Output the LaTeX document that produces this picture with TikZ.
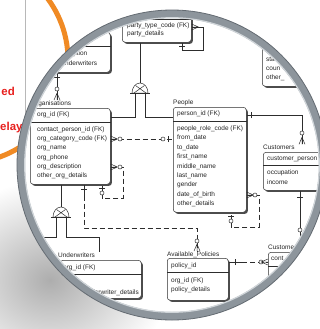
\documentclass[tikz,border=0pt]{standalone}
\usepackage{fontspec}
\setmainfont{Liberation Sans}
\usetikzlibrary{shadows}
\definecolor{ringgray}{RGB}{141,149,156}
\definecolor{ringdark}{RGB}{100,107,114}
\definecolor{ringlight}{RGB}{208,213,217}
\definecolor{orangearc}{RGB}{240,138,36}
\definecolor{redtitle}{RGB}{232,32,30}
\definecolor{erline}{RGB}{45,45,45}
\tikzset{
  erfont/.style={font=\fontsize{6.5}{7}\selectfont, text=black!85, inner sep=0pt},
  attr/.style={erfont, anchor=base west},
  redtxt/.style={font=\fontsize{11.5}{12}\selectfont\bfseries, text=redtitle, inner sep=0pt},
  rel/.style={draw=erline, line width=0.5bp},
  optrel/.style={rel, dash pattern=on 5bp off 3bp},
  entity/.style={draw=erline, line width=0.5bp, rounded corners=3bp, fill=white,
    anchor=north west, inner sep=0pt,
    drop shadow={shadow xshift=1.6bp, shadow yshift=-1.6bp, fill=black!70, opacity=1}},
  crowfoot/.pic={\draw[rel] (0,-3bp) -- (7bp,0) (0,0) -- (7bp,0) (0,3bp) -- (7bp,0);},
  ringo/.pic={\draw[rel, fill=white] (0,0) circle[radius=2bp];},
  tick/.pic={\draw[rel] (0,-3bp) -- (0,3bp);},
  subtype/.pic={
    \draw[rel, fill=white] (-8bp,0) arc[start angle=180, end angle=0, x radius=8bp, y radius=10bp] -- cycle;
    \draw[rel] (-6bp,0) -- (4.5bp,7.5bp) (6bp,0) -- (-4.5bp,7.5bp);
    \draw[rel] (-10bp,0) -- (10bp,0);}
}
\begin{document}
\begin{tikzpicture}[x=1bp,y=-1bp]
\useasboundingbox (0,0) rectangle (320,329);
\fill[white] (0,0) rectangle (320,329);

% soft shadow under the lens
\shade[inner color=black!32, outer color=white] (50,280) ellipse [x radius=120bp, y radius=100bp];

% slide behind the lens
\draw[orangearc, line width=5bp] (-35,60) circle[radius=103bp];
\draw[black!28, line width=0.6bp] (25,0) -- (25,115);
\node[redtxt, anchor=base east] (t1) at (15,95) {ed};
\node[redtxt, anchor=base west] (t2) at (0,130) {elay};

% the lens
\coordinate (C) at (172,165);
\fill[white] (C) circle[radius=155bp];
\begin{scope}
\clip (C) circle[radius=147bp];

% ---------- entities ----------
\node[entity, minimum width=90bp, minimum height=40bp] (utype) at (20,32) {};
\draw[rel] (utype.west |- 0,46) -- (utype.east |- 0,46);
\node[attr] (utype1) at (63,55.5) {scription};
\node[attr] (utype2) at (65,65.5) {nderwriters};

\node[entity, minimum width=69bp, minimum height=38bp] (party) at (122,4) {};
\draw[rel] (party.west |- 0,19) -- (party.east |- 0,19);
\node[attr] (party1) at (127,27.5) {party\_type\_code (FK)};
\node[attr] (party2) at (127,35.5) {party\_details};

\node[entity, minimum width=80bp, minimum height=56bp] (tr) at (262,30) {};
\node[attr] (tr1) at (266,61.5) {sta};
\node[attr] (tr2) at (266,70.5) {coun};
\node[attr] (tr3) at (266,79.5) {other\_};

\node[attr] (orglab) at (31,105) {Organisations};
\node[entity, minimum width=80bp, minimum height=76bp] (org) at (30,108) {};
\draw[rel] (org.west |- 0,122) -- (org.east |- 0,122);
\node[attr] (orgkey) at (37,116) {org\_id (FK)};
\foreach \t [count=\i] in {contact\_person\_id (FK), org\_category\_code (FK), org\_name, org\_phone, org\_description, other\_org\_details}
  \node[attr] (org\i) at (37,122.3+\i*9.2) {\t};

\node[attr] (ppllab) at (173,104) {People};
\node[entity, minimum width=73bp, minimum height=105bp] (ppl) at (173,107) {};
\draw[rel] (ppl.west |- 0,121) -- (ppl.east |- 0,121);
\node[attr] (pplkey) at (177,115.5) {person\_id (FK)};
\foreach \t [count=\i] in {people\_role\_code (FK), from\_date, to\_date, first\_name, middle\_name, last\_name, gender, date\_of\_birth, other\_details}
  \node[attr] (ppl\i) at (177,121.125+\i*9.375) {\t};

\node[attr] (custlab) at (263,149) {Customers};
\node[entity, minimum width=80bp, minimum height=38bp] (cust) at (263,152) {};
\draw[rel] (cust.west |- 0,165) -- (cust.east |- 0,165);
\node[attr] (custkey) at (267,160.5) {customer\_person};
\node[attr] (cust1) at (267,174.5) {occupation};
\node[attr] (cust2a) at (267,184) {income};

\node[attr] (uwlab) at (58,257) {Underwriters};
\node[entity, minimum width=81bp, minimum height=38bp] (uw) at (60,260) {};
\draw[rel] (uw.west |- 0,274) -- (uw.east |- 0,274);
\node[attr] (uwkey) at (63,269.5) {org\_id (FK)};
\node[attr] (uw1) at (72,282.5) {d};
\node[attr, anchor=base east] (uw2) at (139,294.5) {nderwriter\_details};

\node[attr] (aplab) at (167,256) {Available\_Policies};
\node[entity, minimum width=61bp, minimum height=42bp] (ap) at (167,258) {};
\draw[rel] (ap.west |- 0,272) -- (ap.east |- 0,272);
\node[attr] (apkey) at (171,267.5) {policy\_id};
\node[attr] (ap1) at (171,282.5) {org\_id (FK)};
\node[attr] (ap2) at (171,291.5) {policy\_details};

\node[attr] (cust2lab) at (268,249) {Custome};
\node[entity, minimum width=80bp, minimum height=70bp] (cust2) at (268,252) {};
\draw[rel] (cust2.west |- 0,266) -- (cust2.east |- 0,266);
\node[attr] (cust2key) at (271,260.5) {cont};

% ---------- subtype symbols ----------
\coordinate (sub1) at (140,93);
\coordinate (sub1top) at (140,83);
\coordinate (sub2) at (61,217);
\coordinate (sub2top) at (61,207);
\coordinate (sub2l) at (30,237);

% ---------- relationships ----------
% underwriter types to organisations
\draw[rel] (utype.south -| 57,0) -- (orglab.north -| 57,0);
\pic[rotate=90] at (57,77) {tick};
\pic at (57,89) {ringo};
\pic[rotate=90] at (orglab.north -| 57,0) {crowfoot};

% party supertype
\draw[rel] (party.south -| sub1top) -- (sub1top);
\draw[rel] (sub1) ++(-5,0) |- (org.east |- 0,117);
\draw[rel] (sub1) ++(5,0) |- (ppl.west |- 0,117);
\pic at (sub1) {subtype};

% party self reference
\draw[rel] (party.east |- 0,27) -| (203,50) -| (party.south -| 182,0);
\pic at (party.east |- 0,27) {crowfoot};
\pic[rotate=90] at (182,46) {tick};

% organisations to people
\draw[optrel] (org.east |- 0,139) -- (ppl.west |- 0,139);
\pic at (org.east |- 0,139) {crowfoot};
\pic at (120,139) {ringo};
\pic at (163,139) {ringo};
\pic at (168,139) {tick};

% organisations self reference
\draw[optrel] (org.east |- 0,167) -| (123,198) -| (org.south -| 102,0);
\pic at (org.east |- 0,167) {crowfoot};
\pic at (120,167) {ringo};
\pic[rotate=90] at (102,188) {tick};
\pic at (102,193) {ringo};

% organisations to available policies
\draw[rel] (org.south -| 84,0) -- ++(0,11) coordinate (k1);
\draw[optrel] (k1) -- (k1 |- 0,228) -| (aplab.north -| 197,0);
\pic[rotate=90] at (84,189) {tick};
\pic at (197,241) {ringo};
\pic[rotate=90] at (aplab.north -| 197,0) {crowfoot};

% organisation subtypes
\draw[rel] (org.south -| sub2top) -- (sub2top);
\draw[rel] (sub2) ++(-5,0) |- (sub2l);
\draw[rel] (sub2) ++(5,0) |- (99,237) -- (uwlab.north -| 99,0);
\pic at (sub2) {subtype};

% people to customers
\draw[rel] (ppl.east |- 0,115) -| (custlab.north -| 302,0);
\pic at (251,115) {tick};
\pic at (302,133) {ringo};
\pic[rotate=90] at (custlab.north -| 302,0) {crowfoot};

% people self reference
\draw[optrel] (ppl.east |- 0,195) -| (259,227) -| (ppl.south -| 231,0);
\pic at (ppl.east |- 0,195) {crowfoot};
\pic at (255,195) {ringo};
\pic[rotate=90] at (231,216) {tick};
\pic at (231,221) {ringo};

% customers downwards
\draw[rel] (cust.south -| 300,0) -- (cust2.north -| 300,0);
\pic[rotate=90] at (300,197) {tick};
\pic at (300,230) {ringo};

% available policies to customer policies
\draw[rel] (ap.east |- 0,262) -- (242,262) coordinate (k2);
\draw[optrel] (k2) -- (cust2.west |- 0,262);
\pic at (235,262) {tick};
\pic at (261,262) {ringo};
\pic[rotate=180] at (cust2.west |- 0,262) {crowfoot};
\end{scope}

% lens rim
\draw[ringgray, line width=8bp] (C) circle[radius=151bp];
\draw[ringdark, line width=0.8bp] (C) circle[radius=155bp];
\draw[ringlight, line width=1.2bp] (C) circle[radius=147.3bp];
\end{tikzpicture}
\end{document}
